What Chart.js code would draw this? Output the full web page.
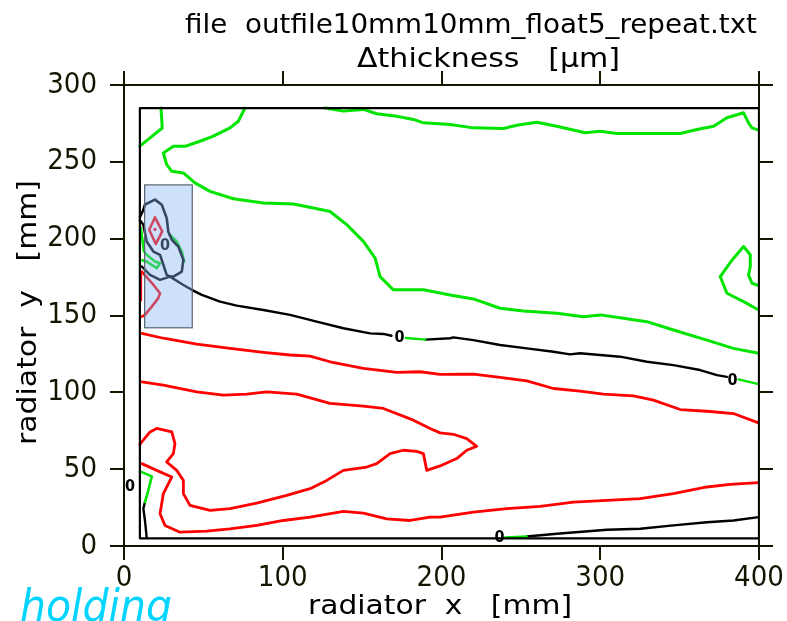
<!DOCTYPE html>
<html><head><meta charset="utf-8">
<script src="https://cdn.jsdelivr.net/npm/chart.js@4/dist/chart.umd.min.js"></script>
<style>html,body{margin:0;padding:0;background:#fff;}canvas{display:block;}</style>
</head><body>
<canvas id="c" width="787" height="621"></canvas>
<script>
// ---- data (mm) ----
const xTicks = [0,100,200,300,400];
const yTicks = [0,50,100,150,200,250,300];
const titleLine1 = "file  outfile10mm10mm_float5_repeat.txt";
const titleLine2 = "\u0394thickness   [\u03bcm]";
const xTitle = "radiator  x   [mm]";
const yTitle = "radiator  y   [mm]";
const cornerText = "holding";

const innerBox = [[10,5],[400,5],[400,285],[10,285],[10,5]];
const highlightBox = [13,142,43,235]; // xmin,ymin,xmax,ymax

const green1 = [[23.3,285],[24.1,272],[16.4,265.6],[11.2,261.2],[10,260.3]];
const green2 = [[76.2,285],[72.0,276.4],[66.8,272.1],[56.3,266.7],[47.9,263.4],[38.4,260.1],[31.1,260.1],[24.8,255.8],[26.9,248.2],[30.1,243.8],[37.4,242.8],[44.7,236.3],[54.2,230.8],[68.9,226.0],[87.8,223.2],[106.7,222.6],[119.3,220.0],[129.8,217.7],[140.3,209.1],[150.8,198.2],[158.2,187.3],[161.3,175.3],[169.7,166.7],[188.6,166.7],[205.4,163.4],[220.1,160.8],[236.9,154.7],[251.6,153.0],[272.7,151.5],[289.4,149.2],[300,150.4],[314.6,148.2],[329.4,146.0],[346.1,140.6],[367.2,134.0],[383.9,128.6],[399.7,125.4]];
const green3 = [[126.7,285],[138.2,283.0],[150.8,284.1],[159.2,281.3],[171.8,279.7],[182.3,277.6],[188.6,275.4],[205.4,274.3],[220.1,272.1],[239.0,271.7],[247.4,273.8],[260.0,275.8],[272.6,273.2],[290.5,268.9],[300,269.9],[310.4,268.4],[331.4,268.4],[350.4,268.4],[360.9,271.0],[371.4,273.2],[379.8,278.7],[390.3,281.9],[393.4,275.4],[395.6,272.1],[399.8,270.6]];
const green4 = [[399.8,169.5],[395.6,171.0],[393.4,176.4],[394.5,181.9],[394.5,189.5],[390.3,194.9],[384.0,187.3],[380.8,183.0],[375.6,175.3],[379.8,164.5],[390.3,159.0],[399.8,153.6]];

const blackMainA = [[11.2,181.9],[16.4,176.4],[22.7,173.2],[29,175.3],[37.4,169.9],[42.7,166.7],[49,163.4],[60.5,159],[71,156.4],[87.8,153.6],[104.6,150.4],[121.4,146],[138.2,141.7],[155,138.4],[163.4,138],[168.5,136.8]];
const greenMainA = [[177.5,135.4],[189.9,134.3]];
const blackMainB = [[189.9,134.3],[205.4,135.2],[207.5,135.8],[220.1,134],[236.9,130.8],[253.7,128.6],[270.5,126.4],[281,124.7],[287.3,125.4],[312.5,123.2],[329.4,119.9],[346.1,117.7],[362.9,114.5],[373.5,111.2],[379.8,110.1]];
const greenMainB = [[387.1,108.4],[399.7,105.3]];

const darkOuter = [[10,214],[12.2,218.8],[13.2,222.1],[19.5,225.4],[23.8,222.1],[26.9,213.4],[27.9,204.7],[30.1,199.3],[34.2,194.9],[37.4,186.2],[36.4,178.6],[31.1,175.3],[29,175.3]];
const darkInner = [[10,212],[12.2,209.1],[14.3,198.2],[18.5,191.6],[22.7,189.5],[24.8,183],[26.9,176.4],[29,175.3]];
const redDiamond = [[19.5,213.8],[24.1,204.7],[20,196.5],[15.9,205.8],[19.5,213.8]];
const redDot = [[19.5,206]];
const redInBox = [[11.2,178.6],[14.3,175],[18.5,170],[22.7,164.5],[21.6,161.3],[17.5,155.8],[13.2,150.4],[11.2,149.3]];
const redEdge = [[10.4,178],[10.6,160]];
const greenInBoxR = [[28.5,202.9],[33.2,198.2],[36.4,191.6],[37.8,185.1]];
const greenInBoxL = [[10.5,207],[11.5,200],[12.5,192],[14.3,189.5],[19.5,185.1],[22.7,184],[20.6,180.8],[14.3,185.1],[11.5,186]];

const red1 = [[11.2,138.4],[24.8,135.2],[45.8,131.4],[66.8,128.6],[87.8,126.0],[104.6,124.3],[117.2,123.6],[129.8,119.9],[150.8,115.6],[171.9,113.0],[186.5,113.4],[199.1,111.7],[220.1,111.9],[236.9,109.7],[253.7,107.5],[270.5,102.5],[287.3,100.8],[302.0,98.8],[320.9,97.7],[333.5,94.9],[350.4,88.8],[367.2,87.7],[383.9,86.2],[399.7,80.1]];
const red2 = [[11.2,106.8],[24.8,104.7],[45.8,100.3],[62.6,98.2],[77.3,98.8],[89.9,100.3],[108.8,98.8],[129.8,92.8],[150.8,91.0],[163.4,89.5],[182.3,81.9],[192.8,76.5],[199.1,73.6],[207.5,72.7],[215.9,69.9],[222.2,64.9],[215.9,62.3],[209.6,56.9],[199.1,52.1],[190.7,49.2],[188.6,60.1],[184.4,61.6],[176.0,62.3],[167.6,60.1],[159.2,53.6],[152.9,51.4],[138.2,49.2],[127.7,42.7],[117.2,37.3],[102.5,32.9],[83.6,27.9],[66.8,24.3],[54.2,23.2],[41.6,26.4],[37.4,34.1],[37.4,42.7],[33.2,49.2],[26.9,54.7],[31.1,60.1],[32.1,66.7],[30.1,74.2],[20.6,76.5],[16.4,74.2],[11.2,67.7],[10,66]];
const red3 = [[11.2,53.6],[20.6,49.2],[30.1,44.9],[24.8,34.1],[22.7,21.0],[25.8,13.4],[35.3,9.0],[52.1,9.7],[66.8,11.2],[83.6,13.4],[100.4,16.6],[117.2,18.8],[138.2,22.5],[150.8,21.4],[165.5,17.7],[180.2,16.6],[192.8,18.8],[199.1,18.8],[220.1,22.0],[241.2,24.3],[262.1,25.8],[283.1,28.6],[304.2,29.7],[325.2,30.8],[346.1,34.1],[367.2,38.4],[381.9,40.1],[399.7,41.2]];

const greenBL = [[10,48.5],[11.2,48.1],[17.5,45.3],[15.3,36.2],[13.2,28.6]];
const blackBL = [[13.2,28.6],[12.2,24.3],[13.2,16.6],[14.3,5.5]];
const greenBR = [[240.1,5.6],[253.7,6.2]];
const blackBR = [[253.7,6.2],[272.7,8],[304.2,10.6],[325.2,11.2],[346.1,13.4],[367.2,15.5],[383.9,16.6],[399.7,18.8]];

const zeroLabels = [[3.8,38.4],[25.8,195.3],[173.5,135.2],[383.3,107.5],[236.5,5.3]];

// ---- styling ----
const GREEN = '#00e400', RED = '#ff0000', BLACK = '#000000', AXIS = '#141400';
function pts(a){ return a.map(p => ({x:p[0], y:p[1]})); }
function line(a, color, w){ return {data:pts(a), borderColor:color, borderWidth:w, showLine:true, pointRadius:0, fill:false, tension:0, borderJoinStyle:'round', borderCapStyle:'round'}; }

const datasets = [
  line(innerBox, BLACK, 2.2),
  line(green1, GREEN, 3), line(green2, GREEN, 3), line(green3, GREEN, 3), line(green4, GREEN, 3),
  line(blackMainA, BLACK, 2.4), line(greenMainA, GREEN, 2.4), line(blackMainB, BLACK, 2.4), line(greenMainB, GREEN, 2.4),
  line(red1, RED, 2.8), line(red2, RED, 2.8), line(red3, RED, 2.8),
  line(greenBL, GREEN, 2.6), line(blackBL, BLACK, 2.4), line(greenBR, GREEN, 2.4), line(blackBR, BLACK, 2.4),
  line(darkOuter, BLACK, 2.6), line(darkInner, BLACK, 2.6), line(redDiamond, RED, 2.6), line(redInBox, RED, 2.6), line(redEdge, RED, 2.6),
  line(greenInBoxR, GREEN, 2.6), line(greenInBoxL, GREEN, 2.6),
  {data:pts(redDot), pointRadius:1.3, backgroundColor:RED, borderColor:RED, showLine:false}
];

function fitText(ctx, text, x, y, width, font, color){
  ctx.save(); ctx.font = font; ctx.fillStyle = color; ctx.textBaseline = 'alphabetic'; ctx.textAlign='left';
  const w = ctx.measureText(text).width; ctx.translate(x, y); ctx.scale(width / w, 1); ctx.fillText(text, 0, 0); ctx.restore();
}

const overlay = {
  id:'overlay',
  afterDatasetsDraw(chart){
    const ctx = chart.ctx, xs = chart.scales.x, ys = chart.scales.y;
    ctx.save();
    ctx.font = 'bold 16px "DejaVu Sans Condensed", "DejaVu Sans"'; ctx.fillStyle = '#000'; ctx.textAlign='center'; ctx.textBaseline='middle';
    zeroLabels.forEach(p => ctx.fillText('0', xs.getPixelForValue(p[0]), ys.getPixelForValue(p[1])));
    const x0 = xs.getPixelForValue(highlightBox[0]), x1 = xs.getPixelForValue(highlightBox[2]);
    const y0 = ys.getPixelForValue(highlightBox[3]), y1 = ys.getPixelForValue(highlightBox[1]);
    ctx.fillStyle = 'rgba(130,180,245,0.4)'; ctx.fillRect(x0, y0, x1-x0, y1-y0);
    ctx.strokeStyle = '#5a6470'; ctx.lineWidth = 1.2; ctx.strokeRect(x0, y0, x1-x0, y1-y0);
    ctx.restore();
  },
  afterDraw(chart){
    const ctx = chart.ctx;
    fitText(ctx, titleLine1, 185, 33, 572, '27px "DejaVu Sans"', '#000');
    fitText(ctx, titleLine2, 357, 67, 263, '27px "DejaVu Sans"', '#000');
    fitText(ctx, xTitle, 308, 614, 264, '27px "DejaVu Sans"', '#000');
    ctx.save(); ctx.translate(36, 445); ctx.rotate(-Math.PI/2);
    fitText(ctx, yTitle, 0, 0, 265, '27px "DejaVu Sans"', '#000');
    ctx.restore();
    ctx.save(); ctx.font = 'italic 44px "DejaVu Sans"'; ctx.fillStyle = '#00d4ff';
    fitText(ctx, cornerText, 20, 621, 152, 'italic 44px "DejaVu Sans"', '#00d4ff'); ctx.restore();
  }
};

const tickFont = {family:'"DejaVu Sans Condensed", "DejaVu Sans"', size:29};
function axis(pos, min, max, ticks, showLabels, fitFn){
  return {
    type:'linear', position:pos, min:min, max:max,
    afterBuildTicks(s){ s.ticks = ticks.map(v => ({value:v})); },
    ticks:{display:showLabels, font:tickFont, color:AXIS, padding:pos==='left'?13:1, maxRotation:0, autoSkip:false},
    grid:{drawOnChartArea:false, drawTicks:true, tickLength:14, color:AXIS, lineWidth:2},
    border:{display:true, color:AXIS, width:2},
    afterFit:fitFn
  };
}

new Chart(document.getElementById('c'), {
  type:'scatter',
  data:{datasets:datasets},
  options:{
    responsive:false, animation:false, devicePixelRatio:1,
    layout:{padding:0},
    plugins:{legend:{display:false}, tooltip:{enabled:false}, title:{display:false}},
    scales:{
      x: axis('bottom', 0, 400, xTicks, true, s => { s.height = 75; }),
      y: axis('left', 0, 300, yTicks, true, s => { s.width = 124; }),
      x2: axis('top', 0, 400, xTicks, false, s => { s.height = 85; }),
      y2: axis('right', 0, 300, yTicks, false, s => { s.width = 28; })
    }
  },
  plugins:[overlay]
});
</script>
</body></html>
